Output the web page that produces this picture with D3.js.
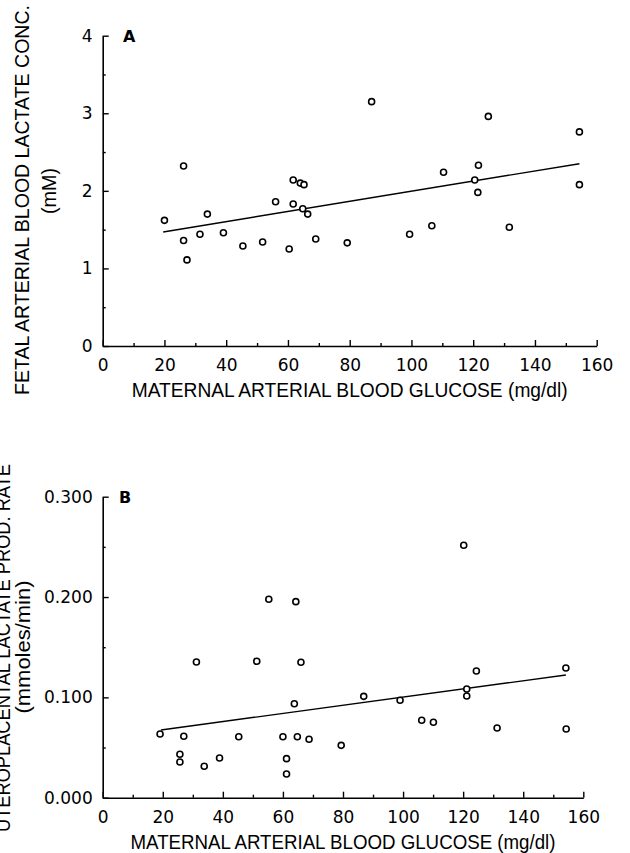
<!DOCTYPE html>
<html>
<head>
<meta charset="utf-8">
<script src="https://cdn.jsdelivr.net/npm/d3@7"></script>
<style>
  html, body { margin: 0; padding: 0; background: #fff; }
  svg { display: block; }
</style>
</head>
<body>
<svg id="chart" width="630" height="853"></svg>
<script>
// ---------- data ----------
const xTickValues = [0, 20, 40, 60, 80, 100, 120, 140, 160];
const xMinorTicks = [10, 30, 50, 70, 90, 110, 130, 150];

// Panel A: fetal arterial blood lactate concentration (mM)
const yTicksA = [0, 1, 2, 3, 4];
const yMinorA = [0.5, 1.5, 2.5, 3.5];
const glucoseA = [20.0, 26.2, 26.2, 27.3, 31.5, 33.9, 39.1, 45.4, 51.8, 56.0,
                  60.4, 61.7, 61.7, 64.0, 65.2, 64.8, 66.4, 69.0, 79.2, 87.1,
                  99.4, 106.6, 110.4, 120.5, 121.7, 121.5, 124.9, 131.7, 154.4, 154.4];
const lactateA = [1.62, 2.32, 1.36, 1.11, 1.44, 1.70, 1.46, 1.29, 1.34, 1.86,
                  1.25, 2.14, 1.83, 2.10, 2.08, 1.77, 1.70, 1.38, 1.33, 3.15,
                  1.44, 1.55, 2.24, 2.14, 2.33, 1.98, 2.96, 1.53, 2.76, 2.08];
const fitAx = [19.6, 154.4];
const fitAy = [1.47, 2.35];

// Panel B: uteroplacental lactate production rate (mmoles/min)
const yTicksB = [0, 0.1, 0.2, 0.3];
const yMinorB = [0.05, 0.15, 0.25];
const glucoseB = [19.1, 25.7, 25.7, 27.0, 31.2, 33.8, 38.9, 45.3, 51.3, 55.3,
                  60.0, 61.2, 61.2, 63.8, 64.3, 64.8, 66.0, 68.7, 79.4, 86.9,
                  99.0, 106.2, 110.1, 120.2, 121.2, 121.2, 124.4, 131.3, 154.2, 154.3];
const prodRateB = [0.0635, 0.0433, 0.0356, 0.0612, 0.1353, 0.0313, 0.0396, 0.0608, 0.1360, 0.1978,
                   0.0608, 0.0389, 0.0236, 0.0937, 0.1954, 0.0608, 0.1350, 0.0582, 0.0522, 0.1010,
                   0.0971, 0.0772, 0.0752, 0.2516, 0.1084, 0.1014, 0.1263, 0.0695, 0.1293, 0.0685];
const fitBx = [19.4, 154.2];
const fitBy = [0.0675, 0.1223];

const xTitle = "MATERNAL ARTERIAL BLOOD GLUCOSE (mg/dl)";
const yTitleA = ["FETAL ARTERIAL BLOOD LACTATE CONC.", "(mM)"];
const yTitleB = ["UTEROPLACENTAL LACTATE PROD. RATE", "(mmoles/min)"];

// ---------- drawing ----------
const svg = d3.select("#chart");
svg.append("rect").attr("width", 630).attr("height", 853).attr("fill", "#fff");

const tickFont = "'DejaVu Sans', sans-serif";
const titleFont = "'Liberation Sans', Arial, sans-serif";

function styleAxis(g) {
  g.attr("font-family", tickFont).attr("font-size", 17);
  g.selectAll("path.domain").attr("stroke", "#000").attr("stroke-width", 1.6);
  g.selectAll(".tick line").attr("stroke", "#000").attr("stroke-width", 1.4);
  g.selectAll(".tick text").attr("fill", "#000");
}

function panel(cfg) {
  const g = svg.append("g");
  const x = d3.scaleLinear().domain([0, 160]).range([cfg.x0, cfg.x1]);
  const y = d3.scaleLinear().domain([0, cfg.ymax]).range([cfg.y0, cfg.y1]);

  // minor ticks
  g.append("g").attr("transform", `translate(0,${cfg.y0})`)
    .call(d3.axisBottom(x).tickValues(xMinorTicks).tickSize(-3).tickFormat(""))
    .call(s => { styleAxis(s); s.select("path.domain").remove(); });
  g.append("g").attr("transform", `translate(${cfg.x0},0)`)
    .call(d3.axisLeft(y).tickValues(cfg.yMinor).tickSize(-3).tickFormat(""))
    .call(s => { styleAxis(s); s.select("path.domain").remove(); });

  // major axes
  g.append("g").attr("transform", `translate(0,${cfg.y0})`)
    .call(d3.axisBottom(x).tickValues(xTickValues).tickSizeInner(-6).tickSizeOuter(0)
      .tickPadding(13).tickFormat(d3.format("d")))
    .call(styleAxis);
  g.append("g").attr("transform", `translate(${cfg.x0},0)`)
    .call(d3.axisLeft(y).tickValues(cfg.yTicks).tickSizeInner(-6).tickSizeOuter(0)
      .tickPadding(10).tickFormat(cfg.fmt))
    .call(styleAxis);

  // regression line
  const line = d3.line().x(d => x(d[0])).y(d => y(d[1]));
  g.append("path")
    .datum(d3.zip(cfg.fitX, cfg.fitY))
    .attr("d", line)
    .attr("fill", "none").attr("stroke", "#000").attr("stroke-width", 1.4);

  // points
  g.append("g").selectAll("circle")
    .data(d3.zip(cfg.xs, cfg.ys))
    .join("circle")
    .attr("cx", d => x(d[0])).attr("cy", d => y(d[1]))
    .attr("r", 3)
    .attr("fill", "#fff").attr("stroke", "#000").attr("stroke-width", 1.6);

  // panel letter
  g.append("text").attr("x", cfg.letterX).attr("y", y(cfg.ymax) + 6)
    .attr("font-family", tickFont).attr("font-weight", "bold").attr("font-size", 16)
    .text(cfg.letter);

  // x title
  g.append("text")
    .attr("x", (cfg.x0 + cfg.x1) / 2).attr("y", cfg.y0 + 51)
    .attr("text-anchor", "middle")
    .attr("font-family", titleFont).attr("font-size", 21)
    .attr("textLength", cfg.xTitleLen).attr("lengthAdjust", "spacingAndGlyphs")
    .text(xTitle);

  // y title (two lines)
  cfg.yTitle.forEach((t, i) => {
    const yt = cfg.yTitlePos[i];
    g.append("text")
      .attr("transform", `translate(${yt[0]},${yt[1]}) rotate(-90)`)
      .attr("text-anchor", "middle")
      .attr("font-family", titleFont).attr("font-size", 21)
      .attr("textLength", yt[2]).attr("lengthAdjust", "spacingAndGlyphs")
      .text(t);
  });
}

panel({
  x0: 102.7, x1: 596.7, y0: 346, y1: 35.7, ymax: 4,
  yTicks: yTicksA, yMinor: yMinorA, fmt: d3.format("d"),
  xs: glucoseA, ys: lactateA, fitX: fitAx, fitY: fitAy,
  letter: "A", letterX: 123, xTitleLen: 436,
  yTitle: yTitleA, yTitlePos: [[29, 200, 390], [56, 191, 46]]
});

panel({
  x0: 102.7, x1: 583.3, y0: 797.7, y1: 496.7, ymax: 0.3,
  yTicks: yTicksB, yMinor: yMinorB, fmt: d3.format(".3f"),
  xs: glucoseB, ys: prodRateB, fitX: fitBx, fitY: fitBy,
  letter: "B", letterX: 119, xTitleLen: 425,
  yTitle: yTitleB, yTitlePos: [[10, 648, 368], [30, 647, 133]]
});
</script>
</body>
</html>
